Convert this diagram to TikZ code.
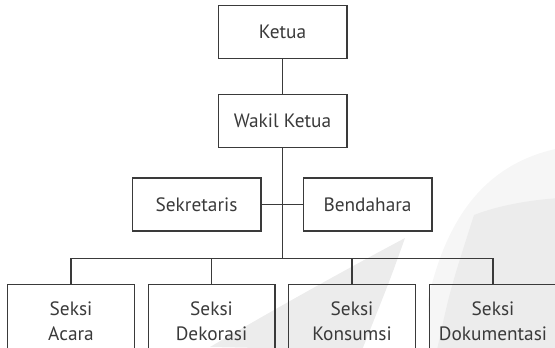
\documentclass[tikz,border=0pt]{standalone}
\usepackage{fontspec}
\setmainfont{PT Sans}
\usepackage{tikz}
\usepackage{xcolor}
\usetikzlibrary{
    calc,
    positioning
}
\definecolor{linegray}{HTML}{3A3A3A}
\definecolor{marka}{HTML}{ECECEC}
\definecolor{markb}{HTML}{F6F6F6}

\begin{document}
\begin{tikzpicture}[x=0.75pt, y=-0.75pt,
                        jabatan/.style={rectangle, draw=linegray, line width=1pt, text=linegray,
                            minimum width=96.5pt, minimum height=39.75pt, inner sep=0pt, font=\fontsize{14.5}{18.75}\selectfont},
                        seksi/.style={jabatan, minimum width=95pt, minimum height=55.5pt, align=center, anchor=north},
                        garis/.style={draw=linegray, line width=0.8pt}]
                        \useasboundingbox (0, 0) rectangle (555, 347);
                        \clip (0, 0) rectangle (555, 347);

                        % watermark di latar
                        \fill[markb] (428, 300) .. controls (450, 200) and (500, 160) .. (560, 148) -- (560, 350) -- (430, 350) -- cycle;
                        \fill[marka] (210, 347) .. controls (290, 300) and (360, 262) .. (405, 238) .. controls (390, 280) .. (362, 350) -- cycle;
                        \fill[marka] (437, 350) .. controls (450, 290) .. (474, 215) .. controls (500, 205) and (530, 200) .. (560, 198) -- (560, 350) -- cycle;

                        \node[jabatan] (ketua) at (282.5, 31.8) {Ketua};
                        \node[jabatan] (wakil) at (282.5, 121) {Wakil Ketua};
                        \node[jabatan] (sekre) at (196.5, 204.5) {Sekretaris};
                        \node[jabatan] (benda) at (367.5, 204.5) {Bendahara};
                        \coordinate (bus) at (282.5, 258.5);

                        \node[seksi] (acara) at (71, 284) {Seksi\\Acara};
                        \node[seksi] (dekor) at (211.5, 284) {Seksi\\Dekorasi};
                        \node[seksi] (konsum) at (352, 284) {Seksi\\Konsumsi};
                        \node[seksi] (dokum) at (493, 284) {Seksi\\Dokumentasi};

                        \draw[garis]
                        (ketua) -- (wakil)
                        (wakil) -- (bus)
                        (sekre) -- (benda)
                        (acara.north) |- (bus) -| (dokum.north)
                        (dekor.north) |- (bus)
                        (konsum.north) |- (bus);
                    \end{tikzpicture}
\end{document}
